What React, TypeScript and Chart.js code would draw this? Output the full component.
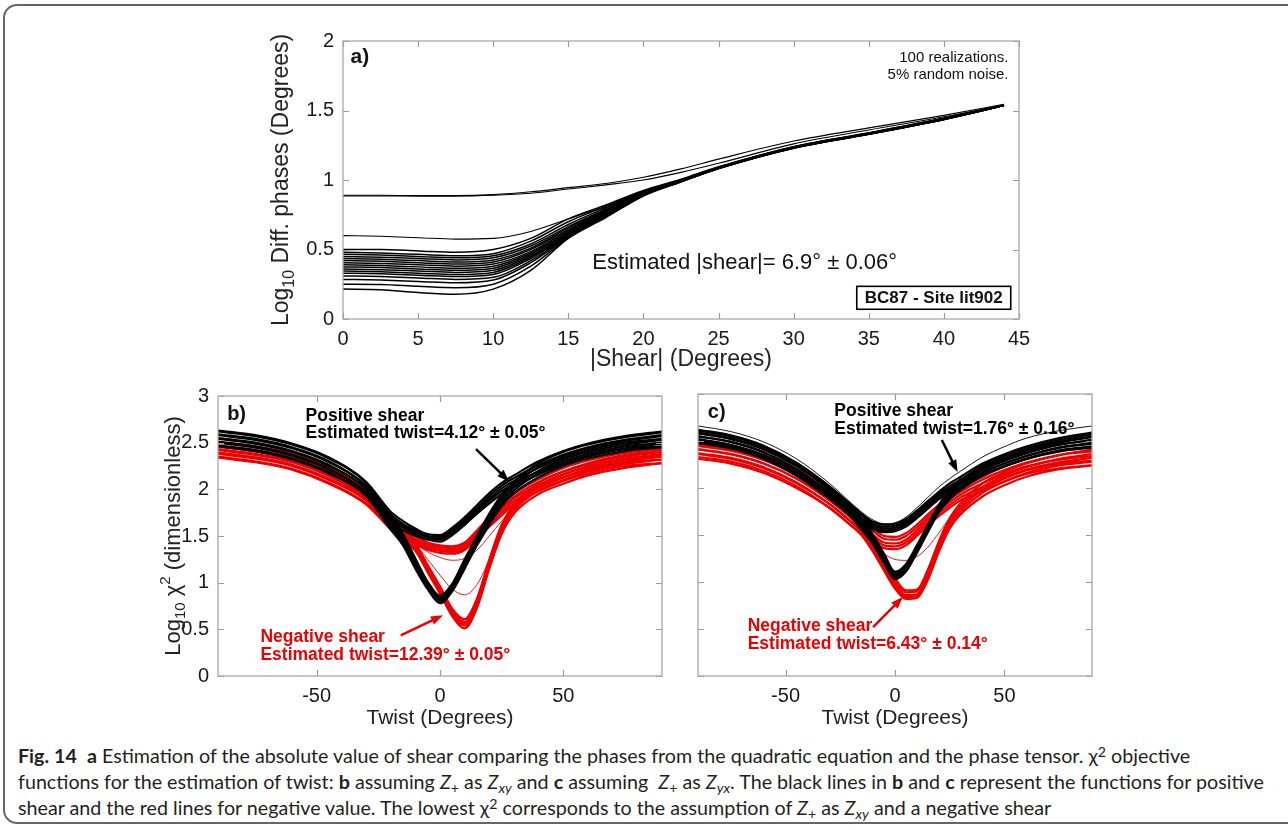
import React, { useEffect, useRef } from "react";
import { Chart, registerables } from "chart.js";

Chart.register(...registerables);

// ---------- Panel a data ----------
const SHEAR_X = [0, 2.5, 5, 7.5, 10, 12.5, 15, 17.5, 20, 22.5, 25, 30, 35, 40, 44];
const SHEAR_X_TICKS = [0, 5, 10, 15, 20, 25, 30, 35, 40, 45];
const SHEAR_Y_TICKS = [0, 0.5, 1, 1.5, 2];
const SHEAR_OUTLIERS = [
  [0.89, 0.89, 0.888, 0.888, 0.895, 0.915, 0.945, 0.975, 1.02, 1.08, 1.15, 1.28, 1.375, 1.465, 1.545],
  [0.885, 0.885, 0.884, 0.884, 0.89, 0.905, 0.935, 0.965, 1.0, 1.055, 1.12, 1.26, 1.36, 1.455, 1.54],
  [0.6, 0.595, 0.585, 0.575, 0.58, 0.63, 0.72, 0.81, 0.905, 0.995, 1.09, 1.24, 1.34, 1.445, 1.54],
];
const SHEAR_BAND = [
  [0.5, 0.5, 0.49, 0.48, 0.5, 0.58, 0.72, 0.82, 0.925, 1.005, 1.095, 1.24, 1.34, 1.445, 1.54],
  [0.48, 0.475, 0.465, 0.455, 0.47, 0.56, 0.7, 0.81, 0.92, 1.0, 1.09, 1.237, 1.337, 1.442, 1.54],
  [0.465, 0.46, 0.45, 0.44, 0.455, 0.54, 0.68, 0.8, 0.915, 1.0, 1.09, 1.235, 1.335, 1.44, 1.54],
  [0.45, 0.445, 0.435, 0.425, 0.44, 0.525, 0.665, 0.79, 0.912, 0.998, 1.088, 1.235, 1.335, 1.44, 1.538],
  [0.435, 0.43, 0.42, 0.41, 0.425, 0.51, 0.655, 0.785, 0.91, 0.997, 1.088, 1.234, 1.334, 1.44, 1.538],
  [0.42, 0.415, 0.405, 0.395, 0.41, 0.5, 0.645, 0.78, 0.908, 0.996, 1.087, 1.234, 1.334, 1.44, 1.538],
  [0.405, 0.4, 0.39, 0.38, 0.395, 0.485, 0.635, 0.775, 0.905, 0.995, 1.086, 1.233, 1.333, 1.439, 1.538],
  [0.39, 0.385, 0.375, 0.365, 0.38, 0.475, 0.625, 0.77, 0.903, 0.994, 1.086, 1.233, 1.333, 1.439, 1.537],
  [0.375, 0.37, 0.36, 0.35, 0.365, 0.465, 0.618, 0.765, 0.9, 0.993, 1.085, 1.232, 1.332, 1.438, 1.537],
  [0.36, 0.355, 0.345, 0.335, 0.35, 0.455, 0.61, 0.76, 0.898, 0.992, 1.085, 1.232, 1.332, 1.438, 1.537],
  [0.345, 0.34, 0.33, 0.32, 0.335, 0.445, 0.605, 0.755, 0.896, 0.991, 1.084, 1.231, 1.331, 1.437, 1.536],
  [0.33, 0.325, 0.315, 0.305, 0.32, 0.435, 0.6, 0.75, 0.894, 0.99, 1.084, 1.231, 1.331, 1.437, 1.536],
  [0.31, 0.305, 0.295, 0.285, 0.3, 0.42, 0.595, 0.745, 0.892, 0.989, 1.083, 1.23, 1.33, 1.436, 1.536],
  [0.285, 0.28, 0.27, 0.26, 0.28, 0.405, 0.59, 0.74, 0.89, 0.988, 1.083, 1.23, 1.33, 1.436, 1.535],
  [0.25, 0.248, 0.235, 0.225, 0.25, 0.38, 0.585, 0.735, 0.888, 0.987, 1.082, 1.229, 1.329, 1.435, 1.535],
  [0.215, 0.21, 0.19, 0.178, 0.215, 0.35, 0.58, 0.73, 0.885, 0.986, 1.082, 1.229, 1.329, 1.435, 1.535],
];

// ---------- Panels b & c data ----------
const TWIST_X = [-90, -75, -60, -45, -30, -20, -15, -10, -5, 0, 5, 10, 15, 20, 25, 30, 40, 50, 60, 75, 90];
const TWIST_X_TICKS = [-50, 0, 50];
const CHI_Y_TICKS = [0, 0.5, 1, 1.5, 2, 2.5, 3];

const B_BLACK_DEEP = [
  [2.62, 2.57, 2.48, 2.33, 2.07, 1.7, 1.52, 1.26, 1.01, 0.86, 0.99, 1.25, 1.5, 1.74, 1.94, 2.08, 2.28, 2.4, 2.48, 2.56, 2.61],
  [2.58, 2.53, 2.44, 2.29, 2.03, 1.66, 1.49, 1.23, 0.99, 0.84, 0.97, 1.23, 1.48, 1.71, 1.91, 2.05, 2.24, 2.36, 2.44, 2.52, 2.57],
  [2.54, 2.49, 2.4, 2.25, 2.0, 1.63, 1.46, 1.2, 0.97, 0.82, 0.95, 1.2, 1.45, 1.68, 1.88, 2.02, 2.2, 2.32, 2.4, 2.48, 2.53],
  [2.5, 2.45, 2.36, 2.21, 1.96, 1.6, 1.43, 1.18, 0.95, 0.8, 0.93, 1.18, 1.42, 1.65, 1.85, 1.99, 2.17, 2.28, 2.36, 2.44, 2.49],
  [2.46, 2.41, 2.32, 2.17, 1.93, 1.57, 1.4, 1.15, 0.93, 0.78, 0.91, 1.15, 1.4, 1.62, 1.82, 1.96, 2.13, 2.25, 2.33, 2.41, 2.45],
];
const B_BLACK_SHALLOW = [
  [2.63, 2.58, 2.49, 2.34, 2.08, 1.76, 1.66, 1.58, 1.52, 1.51, 1.59, 1.7, 1.83, 1.96, 2.07, 2.15, 2.3, 2.41, 2.49, 2.57, 2.62],
  [2.59, 2.54, 2.45, 2.3, 2.04, 1.73, 1.63, 1.56, 1.5, 1.49, 1.57, 1.68, 1.8, 1.93, 2.04, 2.12, 2.26, 2.37, 2.45, 2.53, 2.58],
  [2.55, 2.5, 2.41, 2.26, 2.01, 1.7, 1.61, 1.54, 1.49, 1.47, 1.55, 1.66, 1.78, 1.9, 2.01, 2.09, 2.23, 2.34, 2.42, 2.5, 2.54],
  [2.51, 2.46, 2.37, 2.22, 1.97, 1.67, 1.59, 1.52, 1.47, 1.46, 1.53, 1.64, 1.76, 1.88, 1.98, 2.06, 2.19, 2.3, 2.38, 2.46, 2.5],
  [2.47, 2.42, 2.33, 2.18, 1.94, 1.64, 1.56, 1.5, 1.46, 1.44, 1.51, 1.62, 1.74, 1.85, 1.95, 2.03, 2.16, 2.27, 2.35, 2.43, 2.46],
];
const B_RED_SHALLOW = [
  [2.51, 2.46, 2.38, 2.23, 2.0, 1.71, 1.6, 1.5, 1.43, 1.4, 1.39, 1.43, 1.56, 1.7, 1.83, 1.95, 2.11, 2.23, 2.31, 2.39, 2.44],
  [2.47, 2.42, 2.34, 2.19, 1.96, 1.68, 1.57, 1.47, 1.41, 1.38, 1.37, 1.41, 1.54, 1.67, 1.8, 1.92, 2.08, 2.19, 2.27, 2.35, 2.4],
  [2.43, 2.38, 2.3, 2.15, 1.92, 1.65, 1.55, 1.45, 1.39, 1.36, 1.35, 1.39, 1.52, 1.65, 1.78, 1.9, 2.05, 2.16, 2.24, 2.32, 2.36],
  [2.39, 2.34, 2.26, 2.11, 1.89, 1.62, 1.52, 1.43, 1.37, 1.34, 1.33, 1.37, 1.5, 1.62, 1.75, 1.87, 2.02, 2.13, 2.21, 2.29, 2.32],
  [2.35, 2.3, 2.22, 2.07, 1.85, 1.59, 1.5, 1.41, 1.35, 1.32, 1.31, 1.35, 1.47, 1.6, 1.72, 1.84, 1.98, 2.09, 2.17, 2.25, 2.28],
];
const B_RED_DEEP = [
  [2.5, 2.45, 2.37, 2.22, 1.99, 1.69, 1.55, 1.42, 1.19, 0.96, 0.72, 0.61, 0.83, 1.25, 1.62, 1.84, 2.07, 2.19, 2.28, 2.37, 2.42],
  [2.46, 2.41, 2.33, 2.18, 1.95, 1.66, 1.52, 1.4, 1.17, 0.94, 0.7, 0.58, 0.8, 1.22, 1.6, 1.82, 2.04, 2.16, 2.25, 2.33, 2.38],
  [2.42, 2.37, 2.29, 2.14, 1.91, 1.63, 1.5, 1.38, 1.15, 0.92, 0.68, 0.56, 0.78, 1.2, 1.58, 1.8, 2.02, 2.13, 2.22, 2.3, 2.35],
  [2.38, 2.33, 2.25, 2.1, 1.88, 1.6, 1.47, 1.36, 1.13, 0.9, 0.66, 0.54, 0.76, 1.18, 1.55, 1.77, 1.99, 2.1, 2.19, 2.27, 2.32],
  [2.34, 2.29, 2.21, 2.06, 1.84, 1.57, 1.45, 1.34, 1.11, 0.88, 0.64, 0.51, 0.73, 1.15, 1.52, 1.74, 1.95, 2.06, 2.15, 2.23, 2.28],
];
const B_RED_THIN = [
  [2.45, 2.4, 2.32, 2.17, 1.94, 1.66, 1.53, 1.41, 1.25, 1.08, 0.93, 0.87, 0.98, 1.25, 1.55, 1.78, 2.02, 2.15, 2.24, 2.32, 2.37],
  [2.4, 2.35, 2.27, 2.12, 1.9, 1.63, 1.52, 1.42, 1.33, 1.27, 1.24, 1.26, 1.35, 1.5, 1.66, 1.8, 2.0, 2.12, 2.2, 2.28, 2.32],
];

const C_BLACK_SHALLOW = [
  [2.62, 2.56, 2.45, 2.27, 2.02, 1.82, 1.72, 1.64, 1.61, 1.62, 1.67, 1.76, 1.86, 1.96, 2.05, 2.12, 2.26, 2.36, 2.44, 2.53, 2.59],
  [2.59, 2.53, 2.42, 2.24, 1.99, 1.79, 1.7, 1.62, 1.59, 1.6, 1.65, 1.74, 1.84, 1.94, 2.02, 2.09, 2.23, 2.32, 2.4, 2.49, 2.55],
  [2.55, 2.49, 2.38, 2.2, 1.95, 1.76, 1.67, 1.6, 1.57, 1.58, 1.63, 1.72, 1.82, 1.92, 2.0, 2.07, 2.2, 2.29, 2.37, 2.46, 2.51],
  [2.51, 2.45, 2.34, 2.16, 1.92, 1.73, 1.65, 1.58, 1.55, 1.56, 1.61, 1.7, 1.8, 1.9, 1.98, 2.04, 2.17, 2.26, 2.34, 2.43, 2.47],
  [2.48, 2.42, 2.31, 2.13, 1.89, 1.7, 1.62, 1.56, 1.53, 1.54, 1.59, 1.68, 1.78, 1.88, 1.95, 2.01, 2.14, 2.23, 2.31, 2.39, 2.43],
];
const C_BLACK_DEEP = [
  [2.61, 2.55, 2.44, 2.26, 2.01, 1.8, 1.66, 1.5, 1.3, 1.11, 1.19, 1.39, 1.61, 1.82, 1.97, 2.08, 2.24, 2.34, 2.42, 2.51, 2.57],
  [2.58, 2.52, 2.41, 2.23, 1.98, 1.77, 1.63, 1.47, 1.27, 1.09, 1.17, 1.37, 1.59, 1.8, 1.95, 2.06, 2.21, 2.31, 2.39, 2.48, 2.54],
  [2.55, 2.49, 2.38, 2.2, 1.95, 1.75, 1.6, 1.45, 1.25, 1.07, 1.15, 1.35, 1.57, 1.78, 1.93, 2.04, 2.19, 2.29, 2.37, 2.46, 2.51],
  [2.52, 2.46, 2.35, 2.17, 1.92, 1.72, 1.57, 1.43, 1.23, 1.05, 1.13, 1.33, 1.55, 1.76, 1.91, 2.01, 2.16, 2.26, 2.34, 2.43, 2.48],
  [2.49, 2.43, 2.32, 2.14, 1.89, 1.69, 1.55, 1.4, 1.2, 1.03, 1.11, 1.31, 1.53, 1.74, 1.88, 1.98, 2.13, 2.23, 2.31, 2.4, 2.44],
];
const C_BLACK_THIN = [
  [2.66, 2.6, 2.49, 2.31, 2.05, 1.84, 1.74, 1.66, 1.62, 1.63, 1.69, 1.79, 1.9, 2.01, 2.1, 2.18, 2.33, 2.44, 2.53, 2.61, 2.66],
];
const C_RED_SHALLOW = [
  [2.5, 2.45, 2.35, 2.19, 1.96, 1.76, 1.66, 1.57, 1.49, 1.48, 1.52, 1.61, 1.72, 1.82, 1.91, 1.99, 2.12, 2.23, 2.31, 2.39, 2.44],
  [2.46, 2.41, 2.31, 2.15, 1.92, 1.72, 1.62, 1.54, 1.46, 1.45, 1.49, 1.58, 1.69, 1.79, 1.88, 1.96, 2.09, 2.19, 2.27, 2.35, 2.39],
  [2.41, 2.36, 2.26, 2.1, 1.87, 1.68, 1.58, 1.5, 1.42, 1.41, 1.45, 1.55, 1.66, 1.76, 1.85, 1.93, 2.05, 2.15, 2.23, 2.3, 2.34],
  [2.36, 2.31, 2.21, 2.05, 1.83, 1.64, 1.55, 1.47, 1.39, 1.38, 1.42, 1.52, 1.63, 1.73, 1.82, 1.9, 2.01, 2.11, 2.19, 2.26, 2.29],
  [2.31, 2.26, 2.16, 2.0, 1.79, 1.6, 1.51, 1.44, 1.36, 1.35, 1.39, 1.49, 1.6, 1.7, 1.79, 1.87, 1.97, 2.07, 2.15, 2.21, 2.24],
];
const C_RED_DEEP = [
  [2.49, 2.44, 2.34, 2.18, 1.95, 1.75, 1.61, 1.44, 1.24, 1.04, 0.91, 0.92, 1.13, 1.43, 1.68, 1.84, 2.05, 2.17, 2.26, 2.35, 2.41],
  [2.45, 2.4, 2.3, 2.14, 1.91, 1.71, 1.58, 1.41, 1.21, 1.01, 0.89, 0.9, 1.1, 1.4, 1.65, 1.81, 2.01, 2.13, 2.22, 2.31, 2.36],
  [2.41, 2.36, 2.26, 2.1, 1.87, 1.68, 1.55, 1.38, 1.18, 0.98, 0.86, 0.87, 1.08, 1.38, 1.63, 1.78, 1.98, 2.1, 2.19, 2.27, 2.32],
  [2.37, 2.32, 2.22, 2.06, 1.83, 1.64, 1.52, 1.35, 1.15, 0.95, 0.84, 0.85, 1.05, 1.35, 1.6, 1.75, 1.95, 2.07, 2.16, 2.24, 2.28],
  [2.33, 2.28, 2.18, 2.02, 1.79, 1.6, 1.49, 1.32, 1.12, 0.93, 0.82, 0.83, 1.02, 1.32, 1.57, 1.72, 1.91, 2.03, 2.12, 2.2, 2.24],
];
const C_RED_THIN = [
  [2.44, 2.39, 2.29, 2.13, 1.9, 1.7, 1.57, 1.42, 1.3, 1.24, 1.23, 1.27, 1.37, 1.52, 1.68, 1.8, 1.99, 2.11, 2.2, 2.28, 2.32],
];

const FONT = "'Liberation Sans', Arial, Helvetica, sans-serif";
const BLACK = "#000000";
const RED = "rgb(238,0,0)";

type Run = { t: string; sub?: boolean; sup?: boolean };
type TextItem = { runs: Run[]; x: number; y: number; size: number; bold?: boolean; color?: string; align?: "left" | "center" | "right" };
type Arrow = { x1: number; y1: number; x2: number; y2: number; color: string };
type PanelCfg = {
  id: string;
  xTicks: number[];
  yTicks: number[];
  texts: TextItem[];
  arrows: Arrow[];
  box?: { x1: number; y1: number; x2: number; y2: number; runs: Run[]; size: number };
  xTitle: { runs: Run[]; size: number; dy: number };
  yTitle?: { runs: Run[]; size: number; dx: number };
};

function drawRuns(ctx: CanvasRenderingContext2D, runs: Run[], x: number, y: number, size: number, bold: boolean, color: string, align: string) {
  const w = bold ? "bold " : "";
  const fontFor = (r: Run) => `${w}${r.sub || r.sup ? Math.round(size * 0.68) : size}px ${FONT}`;
  let total = 0;
  const widths = runs.map((r) => {
    ctx.font = fontFor(r);
    const m = ctx.measureText(r.t).width;
    total += m;
    return m;
  });
  let cx = align === "left" ? x : align === "center" ? x - total / 2 : x - total;
  ctx.textBaseline = "middle";
  ctx.textAlign = "left";
  ctx.fillStyle = color;
  runs.forEach((r, i) => {
    ctx.font = fontFor(r);
    const dy = r.sub ? size * 0.32 : r.sup ? -size * 0.38 : 0;
    ctx.fillText(r.t, cx, y + dy);
    cx += widths[i];
  });
}

function framePlugin(cfg: PanelCfg) {
  return {
    id: "frame_" + cfg.id,
    afterDraw(chart: any) {
      const { ctx, chartArea } = chart;
      const { left, right, top, bottom } = chartArea;
      const xs = chart.scales.x;
      const ys = chart.scales.y;
      ctx.save();
      ctx.strokeStyle = "#9a9a9a";
      ctx.lineWidth = 1.2;
      const L = 6;
      ctx.beginPath();
      cfg.xTicks.forEach((v) => {
        const p = Math.round(xs.getPixelForValue(v)) + 0.5;
        ctx.moveTo(p, bottom);
        ctx.lineTo(p, bottom - L);
        ctx.moveTo(p, top);
        ctx.lineTo(p, top + L);
      });
      cfg.yTicks.forEach((v) => {
        const p = Math.round(ys.getPixelForValue(v)) + 0.5;
        ctx.moveTo(left, p);
        ctx.lineTo(left + L, p);
        ctx.moveTo(right, p);
        ctx.lineTo(right - L, p);
      });
      ctx.stroke();
      ctx.strokeStyle = "#a8a8a8";
      ctx.lineWidth = 1.3;
      ctx.strokeRect(left, top, right - left, bottom - top);

      cfg.arrows.forEach((a) => {
        const x1 = xs.getPixelForValue(a.x1), y1 = ys.getPixelForValue(a.y1);
        const x2 = xs.getPixelForValue(a.x2), y2 = ys.getPixelForValue(a.y2);
        const ang = Math.atan2(y2 - y1, x2 - x1);
        const hl = 12, hw = 4.5;
        ctx.strokeStyle = a.color;
        ctx.fillStyle = a.color;
        ctx.lineWidth = 2.5;
        ctx.beginPath();
        ctx.moveTo(x1, y1);
        ctx.lineTo(x2 - Math.cos(ang) * hl * 0.8, y2 - Math.sin(ang) * hl * 0.8);
        ctx.stroke();
        ctx.beginPath();
        ctx.moveTo(x2, y2);
        ctx.lineTo(x2 - Math.cos(ang) * hl - Math.sin(ang) * hw, y2 - Math.sin(ang) * hl + Math.cos(ang) * hw);
        ctx.lineTo(x2 - Math.cos(ang) * hl + Math.sin(ang) * hw, y2 - Math.sin(ang) * hl - Math.cos(ang) * hw);
        ctx.closePath();
        ctx.fill();
      });

      cfg.texts.forEach((t) => {
        drawRuns(ctx, t.runs, xs.getPixelForValue(t.x), ys.getPixelForValue(t.y), t.size, !!t.bold, t.color || "#111", t.align || "left");
      });

      if (cfg.box) {
        const b = cfg.box;
        const bx1 = xs.getPixelForValue(b.x1), bx2 = xs.getPixelForValue(b.x2);
        const by1 = ys.getPixelForValue(b.y1), by2 = ys.getPixelForValue(b.y2);
        ctx.fillStyle = "#fff";
        ctx.fillRect(bx1, by1, bx2 - bx1, by2 - by1);
        ctx.strokeStyle = "#000";
        ctx.lineWidth = 1.6;
        ctx.strokeRect(bx1, by1, bx2 - bx1, by2 - by1);
        drawRuns(ctx, b.runs, (bx1 + bx2) / 2, (by1 + by2) / 2 + 0.5, b.size, true, "#111", "center");
      }

      drawRuns(ctx, cfg.xTitle.runs, (left + right) / 2, bottom + cfg.xTitle.dy, cfg.xTitle.size, false, "#222", "center");
      if (cfg.yTitle) {
        ctx.save();
        ctx.translate(left - cfg.yTitle.dx, (top + bottom) / 2);
        ctx.rotate(-Math.PI / 2);
        drawRuns(ctx, cfg.yTitle.runs, 0, 0, cfg.yTitle.size, false, "#222", "center");
        ctx.restore();
      }
      ctx.restore();
    },
  };
}

type Group = { curves: number[][]; color: string; width: number };

function makeDatasets(xs: number[], groups: Group[]) {
  const ds: any[] = [];
  groups.forEach((g) => {
    g.curves.forEach((c) => {
      ds.push({
        data: xs.map((x, i) => ({ x, y: c[i] })),
        borderColor: g.color,
        borderWidth: g.width,
        pointRadius: 0,
        fill: false,
        cubicInterpolationMode: "monotone",
      });
    });
  });
  return ds;
}

type PanelProps = {
  left: number; top: number; width: number; height: number;
  xMin: number; xMax: number; xStep: number; yMax: number; yStep: number;
  yAxisWidth: number; xAxisHeight: number; padTop: number; padRight: number;
  showYLabels: boolean; tickSize: number;
  xs: number[]; groups: Group[]; cfg: PanelCfg;
};

function Panel(p: PanelProps) {
  const ref = useRef<HTMLCanvasElement>(null);
  useEffect(() => {
    if (!ref.current) return;
    const chart = new Chart(ref.current, {
      type: "line",
      data: { datasets: makeDatasets(p.xs, p.groups) },
      options: {
        animation: false,
        responsive: true,
        maintainAspectRatio: false,
        devicePixelRatio: 1,
        events: [],
        layout: { padding: { top: p.padTop, right: p.padRight, left: 0, bottom: 0 } },
        plugins: { legend: { display: false }, tooltip: { enabled: false }, title: { display: false } },
        scales: {
          x: {
            type: "linear",
            min: p.xMin,
            max: p.xMax,
            border: { display: false },
            grid: { display: false, drawTicks: false },
            ticks: {
              stepSize: p.xStep,
              includeBounds: false,
              padding: 8,
              color: "#1a1a1a",
              maxRotation: 0,
              autoSkip: false,
              font: { family: FONT, size: p.tickSize },
              callback: (v: any) => String(v),
            },
            afterFit: (s: any) => { s.height = p.xAxisHeight; },
          },
          y: {
            type: "linear",
            min: 0,
            max: p.yMax,
            border: { display: false },
            grid: { display: false, drawTicks: false },
            ticks: {
              display: p.showYLabels,
              stepSize: p.yStep,
              padding: 9,
              color: "#1a1a1a",
              autoSkip: false,
              font: { family: FONT, size: p.tickSize },
              callback: (v: any) => String(v),
            },
            afterFit: (s: any) => { s.width = p.yAxisWidth; },
          },
        },
      } as any,
      plugins: [framePlugin(p.cfg)],
    });
    return () => chart.destroy();
  }, []);
  return (
    <div style={{ position: "absolute", left: p.left, top: p.top, width: p.width, height: p.height }}>
      <canvas ref={ref} />
    </div>
  );
}

const panelA: PanelCfg = {
  id: "a",
  xTicks: SHEAR_X_TICKS,
  yTicks: SHEAR_Y_TICKS,
  texts: [
    { runs: [{ t: "a)" }], x: 0.5, y: 1.88, size: 21, bold: true },
    { runs: [{ t: "100 realizations." }], x: 44.3, y: 1.88, size: 15, align: "right" },
    { runs: [{ t: "5% random noise." }], x: 44.3, y: 1.76, size: 15, align: "right" },
    { runs: [{ t: "Estimated |shear|= 6.9° ± 0.06°" }], x: 16.6, y: 0.4, size: 22 },
  ],
  arrows: [],
  box: { x1: 34.2, y1: 0.235, x2: 44.45, y2: 0.07, runs: [{ t: "BC87 - Site lit902" }], size: 17 },
  xTitle: { runs: [{ t: "|Shear| (Degrees)" }], size: 23, dy: 41 },
  yTitle: { runs: [{ t: "Log" }, { t: "10", sub: true }, { t: " Diff. phases (Degrees)" }], size: 23, dx: 61 },
};

const panelB: PanelCfg = {
  id: "b",
  xTicks: TWIST_X_TICKS,
  yTicks: CHI_Y_TICKS,
  texts: [
    { runs: [{ t: "b)" }], x: -86.3, y: 2.8, size: 20, bold: true },
    { runs: [{ t: "Positive shear" }], x: -54.5, y: 2.78, size: 17.5, bold: true, color: "#000" },
    { runs: [{ t: "Estimated twist=4.12° ± 0.05°" }], x: -54.5, y: 2.6, size: 17.5, bold: true, color: "#000" },
    { runs: [{ t: "Negative shear" }], x: -72.8, y: 0.415, size: 17.5, bold: true, color: RED },
    { runs: [{ t: "Estimated twist=12.39° ± 0.05°" }], x: -72.8, y: 0.225, size: 17.5, bold: true, color: RED },
  ],
  arrows: [
    { x1: 14.6, y1: 2.43, x2: 28, y2: 2.085, color: "#000" },
    { x1: -15.9, y1: 0.436, x2: 1.2, y2: 0.65, color: RED },
  ],
  xTitle: { runs: [{ t: "Twist (Degrees)" }], size: 21, dy: 42 },
  yTitle: { runs: [{ t: "Log" }, { t: "10", sub: true }, { t: " χ" }, { t: "2", sup: true }, { t: " (dimensionless)" }], size: 22, dx: 44 },
};

const panelC: PanelCfg = {
  id: "c",
  xTicks: TWIST_X_TICKS,
  yTicks: CHI_Y_TICKS,
  texts: [
    { runs: [{ t: "c)" }], x: -85.5, y: 2.8, size: 20, bold: true },
    { runs: [{ t: "Positive shear" }], x: -27.7, y: 2.82, size: 17.5, bold: true, color: "#000" },
    { runs: [{ t: "Estimated twist=1.76° ± 0.16°" }], x: -27.7, y: 2.63, size: 17.5, bold: true, color: "#000" },
    { runs: [{ t: "Negative shear" }], x: -67.3, y: 0.53, size: 17.5, bold: true, color: RED },
    { runs: [{ t: "Estimated twist=6.43° ± 0.14°" }], x: -67.3, y: 0.34, size: 17.5, bold: true, color: RED },
  ],
  arrows: [
    { x1: 21.4, y1: 2.51, x2: 28.6, y2: 2.17, color: "#000" },
    { x1: -10, y1: 0.52, x2: 3.6, y2: 0.84, color: RED },
  ],
  xTitle: { runs: [{ t: "Twist (Degrees)" }], size: 21, dy: 42 },
};

const subStyle: React.CSSProperties = { fontSize: "0.72em", position: "relative", top: "0.3em", lineHeight: 0 };
const supStyle: React.CSSProperties = { fontSize: "0.72em", position: "relative", top: "-0.45em", lineHeight: 0 };

function Zplus() {
  return (
    <span>
      <i>Z</i>
      <span style={subStyle}>+</span>
    </span>
  );
}
function Zsub({ s }: { s: string }) {
  return (
    <span>
      <i>Z</i>
      <i style={subStyle}>{s}</i>
    </span>
  );
}

export default function App() {
  return (
    <div style={{ position: "absolute", left: 0, top: 0, width: 1288, height: 830, background: "#fff", overflow: "hidden" }}>
      <div
        style={{
          position: "absolute",
          left: 3,
          top: 4,
          width: 1300,
          height: 820,
          border: "2px solid #666",
          borderRadius: 14,
          boxSizing: "border-box",
        }}
      />
      <Panel
        left={240} top={20} width={800} height={360}
        xMin={0} xMax={45} xStep={5} yMax={2} yStep={0.5}
        yAxisWidth={103} xAxisHeight={61} padTop={18} padRight={21}
        showYLabels={true} tickSize={20}
        xs={SHEAR_X}
        groups={[
          { curves: SHEAR_OUTLIERS, color: BLACK, width: 1.1 },
          { curves: SHEAR_BAND, color: BLACK, width: 1.5 },
        ]}
        cfg={panelA}
      />
      <Panel
        left={150} top={375} width={530} height={360}
        xMin={-90} xMax={90} xStep={50} yMax={3} yStep={0.5}
        yAxisWidth={68} xAxisHeight={59} padTop={19} padRight={18}
        showYLabels={true} tickSize={20}
        xs={TWIST_X}
        groups={[
          { curves: B_BLACK_DEEP, color: BLACK, width: 2.2 },
          { curves: B_BLACK_SHALLOW, color: BLACK, width: 2.2 },
          { curves: B_RED_THIN, color: RED, width: 0.9 },
          { curves: B_RED_SHALLOW, color: RED, width: 2.2 },
          { curves: B_RED_DEEP, color: RED, width: 2.2 },
        ]}
        cfg={panelB}
      />
      <Panel
        left={690} top={375} width={420} height={360}
        xMin={-90} xMax={90} xStep={50} yMax={3} yStep={0.5}
        yAxisWidth={8} xAxisHeight={59} padTop={19} padRight={18}
        showYLabels={false} tickSize={20}
        xs={TWIST_X}
        groups={[
          { curves: C_BLACK_THIN, color: BLACK, width: 0.9 },
          { curves: C_BLACK_DEEP, color: BLACK, width: 2.2 },
          { curves: C_BLACK_SHALLOW, color: BLACK, width: 2.2 },
          { curves: C_RED_THIN, color: RED, width: 0.9 },
          { curves: C_RED_SHALLOW, color: RED, width: 2.2 },
          { curves: C_RED_DEEP, color: RED, width: 2.2 },
        ]}
        cfg={panelC}
      />
      <div
        style={{
          position: "absolute",
          left: 18,
          top: 743,
          fontFamily: "Lato, 'Open Sans', sans-serif",
          fontSize: 19.7,
          lineHeight: "26px",
          color: "#231f20",
          whiteSpace: "nowrap",
        }}
      >
        <div>
          <b>Fig. 14</b>&nbsp; <b>a</b> Estimation of the absolute value of shear comparing the phases from the quadratic equation and the phase tensor. χ
          <span style={supStyle}>2</span> objective
        </div>
        <div>
          functions for the estimation of twist: <b>b</b> assuming <Zplus /> as <Zsub s="xy" /> and <b>c</b> assuming&nbsp; <Zplus /> as <Zsub s="yx" />. The black lines in <b>b</b> and <b>c</b> represent the functions for positive
        </div>
        <div>
          shear and the red lines for negative value. The lowest χ<span style={supStyle}>2</span> corresponds to the assumption of <Zplus /> as <Zsub s="xy" /> and a negative shear
        </div>
      </div>
    </div>
  );
}
